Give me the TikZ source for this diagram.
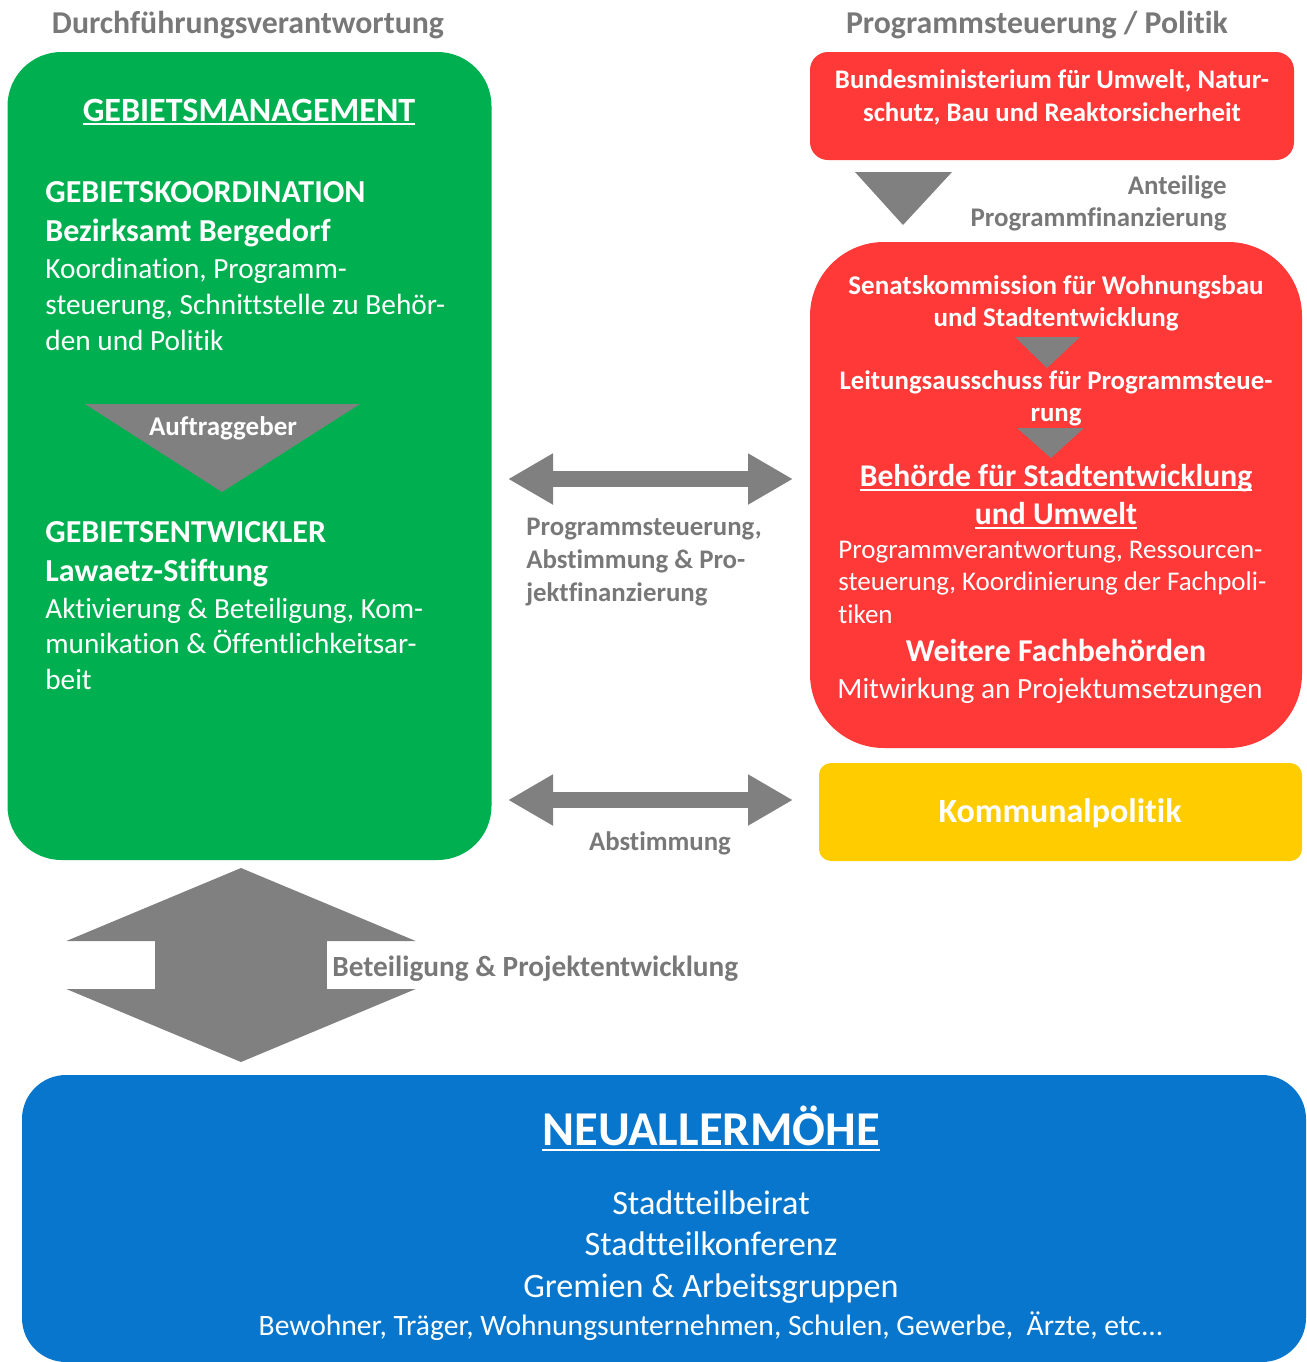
\documentclass[tikz,border=0pt]{standalone}
\usepackage{fontspec}
\setmainfont{Carlito}[Ligatures=NoCommon]
\usetikzlibrary{arrows.meta,positioning}
\definecolor{gmgreen}{RGB}{0,176,80}
\definecolor{polred}{RGB}{255,56,56}
\definecolor{komyellow}{RGB}{255,204,0}
\definecolor{quartblue}{RGB}{8,118,204}
\definecolor{arrowgray}{RGB}{128,128,128}
\definecolor{labelgray}{RGB}{120,120,120}
\newcommand{\fsz}[2]{\fontsize{#1}{#2}\selectfont}
\newcommand{\uln}[1]{\setbox0\hbox{#1}\rlap{\rule[-0.13em]{\wd0}{1pt}}\box0}
\tikzset{panel/.style={inner sep=0pt,outer sep=0pt},
  txt/.style={inner sep=0pt,text=white,anchor=base},
  txtl/.style={txt,anchor=base west,align=left},
  graylbl/.style={inner sep=0pt,text=labelgray,font=\bfseries\fsz{13.4}{16.5}},
  dblarrow/.style={arrowgray,line width=8pt,{Triangle[width=24pt,length=22.5pt]}-{Triangle[width=24pt,length=22.5pt]}}}

\begin{document}
\begin{tikzpicture}[x=0.5pt,y=-0.5pt]
  \useasboundingbox (0,0) rectangle (1307,1362);
  % boxes
  \node[panel,fill=gmgreen,rounded corners=27pt,minimum width=242pt,minimum height=404pt] (gm) at (249.5,456) {};
  \node[panel,fill=polred,rounded corners=9pt,minimum width=242pt,minimum height=54pt] (bmub) at (1052,106) {};
  \node[panel,fill=polred,rounded corners=37pt,minimum width=246pt,minimum height=253pt] (senat) at (1056,495) {};
  \node[panel,fill=komyellow,rounded corners=6pt,minimum width=241.5pt,minimum height=49pt] (kommunal) at (1060.5,812) {};
  \node[panel,fill=quartblue,rounded corners=22pt,minimum width=642pt,minimum height=143.5pt] (quartier) at (664,1218.5) {};

  % column heads
  \node[graylbl,anchor=base,font=\bfseries\fsz{15.9}{18}] (durchf) at (248,33.5) {Durchführungsverantwortung};
  \node[graylbl,anchor=base,font=\bfseries\fsz{15.9}{18}] (politik) at (1037,33.5) {Programmsteuerung / Politik};

  % Gebietsmanagement
  \node[txt,font=\bfseries\fsz{17}{20}] (gmtitle) at (249,121) {\uln{GEBIETSMANAGEMENT}};
  \node[txtl,font=\bfseries\fsz{16}{19.5}] (koord) at (45,241.5) {GEBIETSKOORDINATION\\Bezirksamt Bergedorf};
  \node[txtl,font=\fsz{14.65}{18}] (koordtxt) at (45,350) {Koordination, Programm-\\steuerung, Schnittstelle zu Behör-\\den und Politik};
  \fill[arrowgray] (85,404) -- (360,404) -- (222,492) -- cycle;
  \node[txt,font=\bfseries\fsz{13.5}{15}] (auftrag) at (223,435) {Auftraggeber};
  \node[txtl,font=\bfseries\fsz{16}{19.5}] (entw) at (45,581) {GEBIETSENTWICKLER\\Lawaetz-Stiftung};
  \node[txtl,font=\fsz{14.6}{17.75}] (entwtxt) at (45,689) {Aktivierung \& Beteiligung, Kom-\\munikation \& Öffentlichkeitsar-\\beit};

  % Programmsteuerung
  \node[txt,align=center,font=\bfseries\fsz{13.4}{16.5}] (bmubtxt) at (1052,121) {Bundesministerium für Umwelt, Natur-\\schutz, Bau und Reaktorsicherheit};
  \fill[arrowgray] (855,172) -- (952,172) -- (903,225) -- cycle;
  \node[graylbl,anchor=base east,align=right,font=\bfseries\fsz{13.45}{16}] (anteil) at (1227,226) {Anteilige\\Programmfinanzierung};
  \node[txt,align=center,font=\bfseries\fsz{13.5}{16}] (senattxt) at (1056,326) {Senatskommission für Wohnungsbau\\und Stadtentwicklung};
  \fill[arrowgray] (1015,337) -- (1080,337) -- (1047,368) -- cycle;
  \node[txt,align=center,font=\bfseries\fsz{13.4}{16}] (leitung) at (1056,421) {Leitungsausschuss für Programmsteue-\\rung};
  \fill[arrowgray] (1017,428) -- (1084,428) -- (1051,458) -- cycle;
  \node[txt,align=center,font=\bfseries\fsz{15.8}{19}] (bsu) at (1056,524.5) {\uln{Behörde für Stadtentwicklung}\\\uln{und Umwelt}};
  \node[txtl,font=\fsz{13.5}{16.25}] (bsutxt) at (838,623) {Programmverantwortung, Ressourcen-\\steuerung, Koordinierung der Fachpoli-\\tiken};
  \node[txt,font=\bfseries\fsz{15.9}{18}] (fachbeh) at (1056,661.5) {Weitere Fachbehörden};
  \node[txt,font=\fsz{14.66}{17}] (mitwirk) at (1050,698) {Mitwirkung an Projektumsetzungen};
  \node[txt,font=\bfseries\fsz{17}{19}] (kommtxt) at (1060,822) {Kommunalpolitik};

  % Abstimmung zwischen den Ebenen
  \coordinate (steuerL) at (508,479);
  \coordinate (steuerR) at (793,479);
  \draw[dblarrow] (steuerL) -- (steuerR);
  \node[graylbl,anchor=base west,align=left] (steuertxt) at (526,601) {Programmsteuerung,\\Abstimmung \& Pro-\\jektfinanzierung};
  \coordinate (abstL) at (508,800);
  \coordinate (abstR) at (793,800);
  \draw[dblarrow] (abstL) -- (abstR);
  \node[graylbl,anchor=base] (absttxt) at (660,850) {Abstimmung};

  % Beteiligung
  \coordinate (betO) at (241,868);
  \coordinate (betU) at (241,1062);
  \draw[arrowgray,line width=86pt,{Triangle[width=173.5pt,length=36.5pt]}-{Triangle[width=173.5pt,length=36.5pt]}] (betO) -- (betU);
  \node[graylbl,anchor=base west,font=\bfseries\fsz{14.65}{17}] (bettxt) at (332,976) {Beteiligung \& Projektentwicklung};

  % Quartier
  \node[txt,font=\bfseries\fsz{24.3}{28}] (neuall) at (711,1145) {\uln{NEUALLERMÖHE}};
  \node[txt,align=center,font=\fsz{17.1}{20.75}] (gremien) at (711,1297) {Stadtteilbeirat\\Stadtteilkonferenz\\Gremien \& Arbeitsgruppen};
  \node[txt,font=\fsz{14.8}{17}] (akteure) at (711,1335) {Bewohner, Träger, Wohnungsunternehmen, Schulen, Gewerbe,\ \ Ärzte, etc...};
\end{tikzpicture}
\end{document}
